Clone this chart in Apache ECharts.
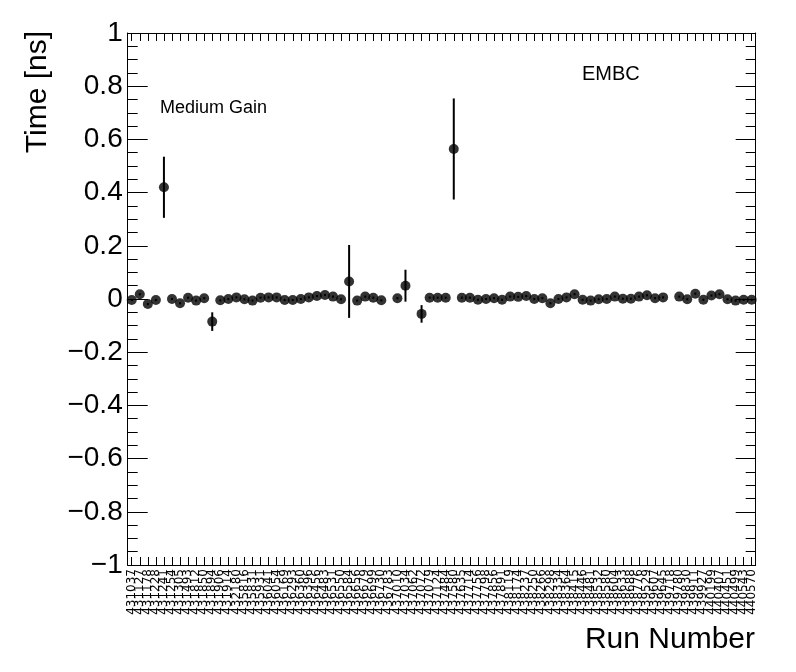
<!DOCTYPE html>
<html><head><meta charset="utf-8">
<script src="https://cdn.jsdelivr.net/npm/echarts@6/dist/echarts.min.js"></script>
<style>html,body{margin:0;padding:0;background:#fff}#c{width:796px;height:672px}</style>
</head><body><div id="c"></div>
<script>
const runs = ["431037","431127","431178","431228","431241","431254","431305","431493","431812","431850","431894","431906","431914","432180","435816","435831","435931","436041","436054","436169","436293","436360","436396","436456","436483","436531","436550","436584","436656","436679","436699","436730","436783","437010","437034","437062","437072","437079","437124","437484","437580","437635","437714","437756","437798","437856","437891","438119","438174","438237","438250","438266","438298","438334","438364","438415","438446","438481","438532","438580","438604","438633","438688","438776","439529","439607","439645","439718","439780","439830","439911","439927","440199","440407","440451","440499","440543","440570"];
const timeValues = [-0.004,0.018,-0.019,-0.004,0.42,0.0,-0.016,0.005,-0.006,0.003,-0.085,-0.005,0.0,0.006,-0.001,-0.006,0.005,0.006,0.006,-0.004,-0.004,0.0,0.006,0.011,0.015,0.009,-0.001,0.066,-0.006,0.009,0.005,-0.005,null,0.003,0.05,null,-0.056,0.005,0.005,0.005,0.564,0.005,0.005,-0.003,0.0,0.003,-0.003,0.009,0.008,0.011,0.0,0.003,-0.016,0.0,0.006,0.018,-0.003,-0.006,-0.001,0.0,0.009,0.001,0.001,0.009,0.014,0.003,0.006,null,0.009,-0.001,0.02,-0.003,0.013,0.018,-0.001,-0.006,-0.003,-0.003];
const timeErrors = [0.004,0.004,0.004,0.004,0.115,0.004,0.004,0.004,0.004,0.004,0.035,0.004,0.004,0.004,0.004,0.004,0.004,0.004,0.004,0.004,0.004,0.004,0.004,0.004,0.004,0.004,0.004,0.137,0.004,0.004,0.004,0.004,null,0.004,0.06,null,0.033,0.004,0.004,0.004,0.19,0.004,0.004,0.004,0.004,0.004,0.004,0.004,0.004,0.004,0.004,0.004,0.004,0.004,0.004,0.004,0.004,0.004,0.004,0.004,0.004,0.004,0.004,0.004,0.004,0.004,0.004,null,0.004,0.004,0.004,0.004,0.004,0.004,0.004,0.004,0.004,0.004];
const yTicks = [-1,-0.8,-0.6,-0.4,-0.2,0,0.2,0.4,0.6,0.8,1];

const pts = [], errs = [];
timeValues.forEach((v,i)=>{ if(v!==null){ pts.push([i,v]); errs.push([i,v-timeErrors[i],v+timeErrors[i]]); } });

const chart = echarts.init(document.getElementById('c'), null, {renderer:'canvas'});
const fmt = v => { const r = Math.round(v*10)/10; const s = String(Math.abs(r)); return (r<0?'\u2212':'') + s; };
const yBase = {
  type:'value', min:yTicks[0], max:yTicks[yTicks.length-1], interval:0.2,
  axisLine:{show:true, lineStyle:{color:'#000',width:1}},
  axisTick:{show:true, inside:true, length:20, lineStyle:{color:'#000'}},
  minorTick:{show:true, splitNumber:4, length:10, lineStyle:{color:'#000'}},
  splitLine:{show:false}
};
chart.setOption({
  animation:false,
  grid:{left:127.7, right:40.3, top:33, bottom:107, containLabel:false},
  xAxis:[{
    type:'category', data:runs, boundaryGap:true, position:'bottom',
    axisLine:{show:true, onZero:false, lineStyle:{color:'#000'}},
    axisTick:{show:true, inside:true, alignWithLabel:true, length:8, interval:0, lineStyle:{color:'#000'}},
    axisLabel:{rotate:90, interval:0, fontSize:12, fontFamily:'DejaVu Sans', color:'#000', margin:4},
    splitLine:{show:false}
  },{
    type:'category', data:runs, boundaryGap:true, position:'top',
    axisLine:{show:true, onZero:false, lineStyle:{color:'#000'}},
    axisTick:{show:true, inside:true, alignWithLabel:true, length:8, interval:0, lineStyle:{color:'#000'}},
    axisLabel:{show:false}, splitLine:{show:false}
  }],
  yAxis:[Object.assign({}, yBase, {position:'left',
      axisLabel:{show:true, formatter:fmt, fontSize:28, fontFamily:'Liberation Sans', color:'#000', margin:5}}),
    Object.assign({}, yBase, {position:'right', axisLabel:{show:false}})],
  series:[{
    type:'custom', xAxisIndex:0, yAxisIndex:0,
    renderItem:(params, api)=>{
      const x = api.coord([api.value(0), api.value(1)])[0];
      const y1 = api.coord([api.value(0), api.value(1)])[1];
      const y2 = api.coord([api.value(0), api.value(2)])[1];
      return {type:'line', shape:{x1:x, y1:y1, x2:x, y2:y2}, style:{stroke:'#000', lineWidth:2}};
    },
    data:errs, encode:{x:0, y:[1,2]}, z:2
  },{
    type:'scatter', xAxisIndex:0, yAxisIndex:0, data:pts, symbol:'circle', symbolSize:10,
    itemStyle:{color:'#000'}, z:3
  }],
  graphic:[
    {type:'text', x:38, y:31, rotation:Math.PI/2, style:{text:'Time [ns]', font:'30px "Liberation Sans"', fill:'#000', align:'right', verticalAlign:'middle'}},
    {type:'text', x:755, y:640, style:{text:'Run Number', font:'30px "Liberation Sans"', fill:'#000', align:'right', verticalAlign:'middle'}},
    {type:'text', x:160, y:108, style:{text:'Medium Gain', font:'18px "Liberation Sans"', fill:'#000', align:'left', verticalAlign:'middle'}},
    {type:'text', x:582, y:74, style:{text:'EMBC', font:'20px "Liberation Sans"', fill:'#000', align:'left', verticalAlign:'middle'}}
  ]
});
</script></body></html>
